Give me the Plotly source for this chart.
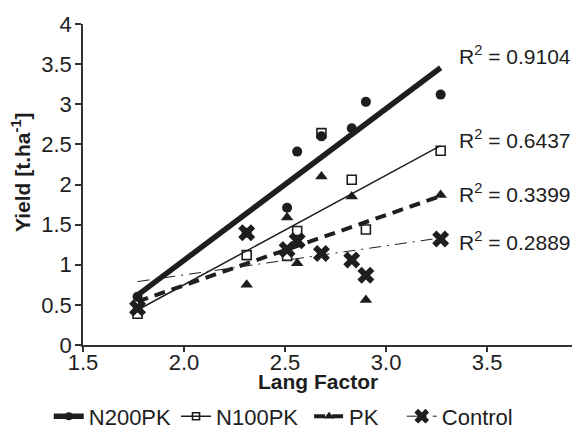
import numpy as np
import plotly.graph_objects as go

# ---- data ----
lang_factor = [1.77, 2.31, 2.51, 2.56, 2.68, 2.83, 2.90, 3.27]
n200pk = [0.60, 1.40, 1.71, 2.41, 2.60, 2.70, 3.03, 3.12]
n100pk = [0.39, 1.12, 1.11, 1.42, 2.64, 2.06, 1.44, 2.42]
pk = [0.44, 0.75, 1.59, 1.02, 2.10, 1.85, 0.56, 1.87]
control = [0.46, 1.40, 1.19, 1.30, 1.14, 1.06, 0.87, 1.32]
series_names = ["N200PK", "N100PK", "PK", "Control"]
r2_labels = ["0.9104", "0.6437", "0.3399", "0.2889"]
x_ticks = [1.5, 2.0, 2.5, 3.0, 3.5]
y_ticks = [0, 0.5, 1, 1.5, 2, 2.5, 3, 3.5, 4]

INK = "#1e1e1e"
FONT = "Liberation Sans, Arial, sans-serif"
NBSP = "\u00a0"
legend_pad = [0, 1, 3, 0]  # extra spacing after each legend name

styles = [
    dict(marker=dict(symbol="circle", size=10, color=INK),
         line=dict(color=INK, width=5.5)),
    dict(marker=dict(symbol="square-open", size=9, color=INK, line=dict(width=1.6, color=INK)),
         line=dict(color=INK, width=1.5)),
    dict(marker=dict(symbol="triangle-up", size=11, color=INK),
         line=dict(color=INK, width=4, dash="11px,7px")),
    dict(marker=dict(symbol="x", size=15, color=INK, line=dict(width=0)),
         line=dict(color=INK, width=1, dash="12px,6px,2px,6px")),
]
r2_y = [3.62, 2.57, 1.90, 1.29]

fig = go.Figure()
x = np.array(lang_factor)
xs = np.array([x.min(), x.max()])
for name, ys, st in zip(series_names, [n200pk, n100pk, pk, control], styles):
    slope, icpt = np.polyfit(x, np.array(ys), 1)
    fig.add_trace(go.Scatter(x=xs, y=slope * xs + icpt, mode="lines", line=st["line"],
                             showlegend=False, hoverinfo="skip"))
for name, ys, st in zip(series_names, [n200pk, n100pk, pk, control], styles):
    fig.add_trace(go.Scatter(x=lang_factor, y=ys, mode="markers", marker=st["marker"],
                             showlegend=False, name=name))
for name, st, pad in zip(series_names, styles, legend_pad):
    fig.add_trace(go.Scatter(x=[None], y=[None], mode="lines+markers", name=name + NBSP * pad,
                             marker=dict(st["marker"], size=st["marker"]["size"] - 2),
                             line=st["line"], showlegend=True))

for lab, yy in zip(r2_labels, r2_y):
    fig.add_annotation(x=3.35, y=yy, xref="x", yref="y", xanchor="left", yanchor="middle",
                       text="R<sup>2</sup> = " + lab, showarrow=False,
                       font=dict(size=21, color=INK, family=FONT))

fig.add_annotation(x=0.48, y=-0.115, xref="paper", yref="paper", xanchor="center", yanchor="middle",
                   text="<b>Lang Factor</b>", showarrow=False,
                   font=dict(size=21, color=INK, family=FONT))
fig.add_annotation(x=-0.128, y=0.54, xref="paper", yref="paper", xanchor="center", yanchor="middle",
                   text="<b>Yield [t.ha<sup>-1</sup>]</b>", textangle=-90, showarrow=False,
                   font=dict(size=21, color=INK, family=FONT))

fig.update_layout(
    width=586, height=437,
    margin=dict(l=83, r=14, t=24, b=92, autoexpand=False),
    paper_bgcolor="white", plot_bgcolor="white",
    font=dict(family=FONT, size=22, color=INK),
    legend=dict(orientation="h", x=-0.07, xanchor="left", y=-0.157, yanchor="top",
                font=dict(size=22, color=INK, family=FONT), bgcolor="rgba(0,0,0,0)",
                itemwidth=30, tracegroupgap=0),
    xaxis=dict(range=[1.5, 3.92], tickvals=x_ticks, tickformat=".1f", showgrid=False,
               zeroline=False, showline=True, linecolor="#333", linewidth=1.5,
               ticks="outside", ticklen=5, tickcolor="#333", tickwidth=1.5,
               ticklabelstandoff=-8,
               tickfont=dict(size=22, color=INK)),
    yaxis=dict(range=[0, 4], tickvals=y_ticks, showgrid=False, zeroline=False,
               showline=True, linecolor="#333", linewidth=1.5,
               ticks="outside", ticklen=6, tickcolor="#333", tickwidth=1.5,
               ticklabelstandoff=-1,
               tickfont=dict(size=22, color=INK)),
)

fig.write_html("out.html", config={"displayModeBar": False},
               post_script="document.body.style.margin='0';")
